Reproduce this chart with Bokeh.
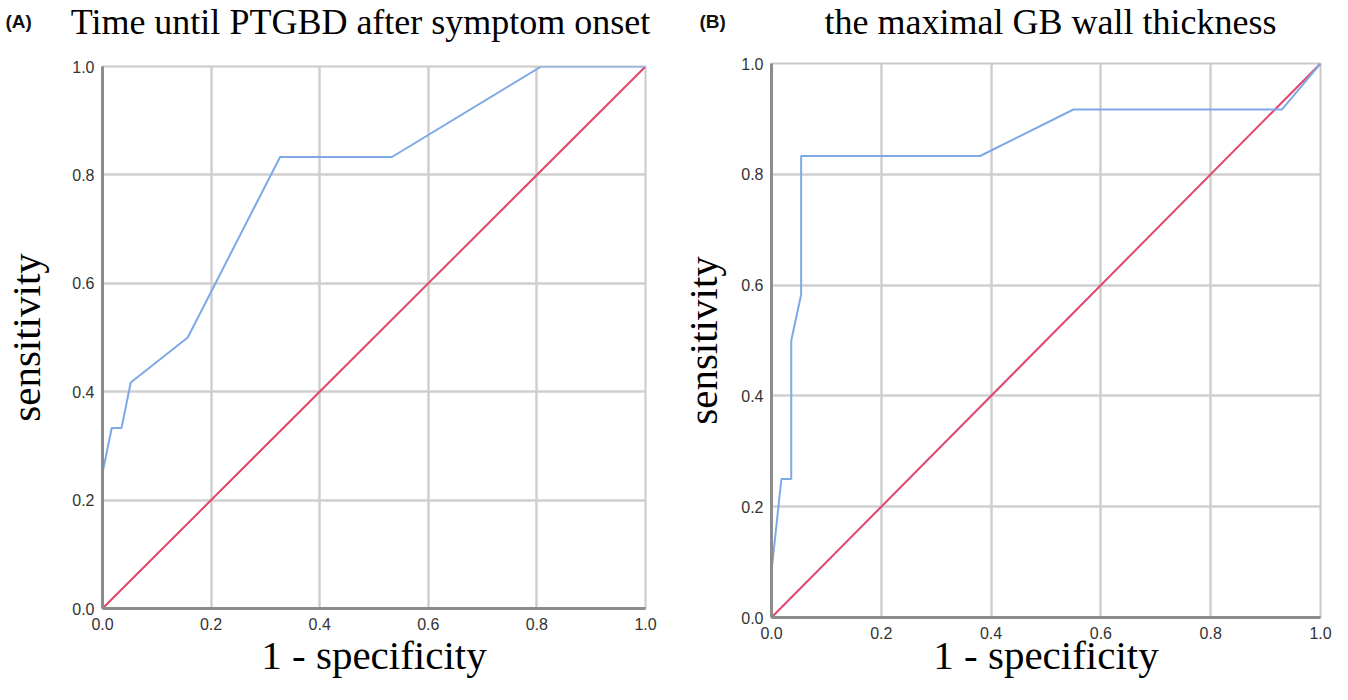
from bokeh.plotting import figure
from bokeh.layouts import row, column
from bokeh.models import Range1d, FixedTicker, PrintfTickFormatter
from bokeh.core.properties import value
from bokeh.embed import file_html
from bokeh.resources import INLINE

# ---- data ----
ticks = [0.0, 0.2, 0.4, 0.6, 0.8, 1.0]
tick_format = "%.1f"

a_title = "Time until PTGBD after symptom onset"
a_tag = "(A)"
a_fpr = [0.0, 0.0, 0.017, 0.035, 0.052, 0.157, 0.327, 0.533, 0.808, 1.0]
a_tpr = [0.0, 0.25, 0.333, 0.333, 0.417, 0.5, 0.833, 0.833, 1.0, 1.0]

b_title = "the maximal GB wall thickness"
b_tag = "(B)"
b_fpr = [0.0, 0.0, 0.018, 0.036, 0.036, 0.054, 0.054, 0.38, 0.55, 0.93, 1.0]
b_tpr = [0.0, 0.083, 0.25, 0.25, 0.5, 0.583, 0.833, 0.833, 0.917, 0.917, 1.0]

ref_x = [0.0, 1.0]
ref_y = [0.0, 1.0]

x_label = "1 - specificity"
y_label = "sensitivity"

SERIF = "Liberation Serif"
SANS = "Liberation Sans"
BLUE = "#7ea9e6"
RED = "#e0466c"

TOTAL_W = 1332
HEAD_H = 46
BODY_H = 684 - HEAD_H

# ---- header strip with panel tags and titles (pixel coordinates) ----
head = figure(width=TOTAL_W, height=HEAD_H, output_backend="svg", toolbar_location=None,
              x_range=Range1d(0, TOTAL_W), y_range=Range1d(HEAD_H, 0),
              x_axis_type=None, y_axis_type=None, min_border=0)
head.outline_line_color = None
head.background_fill_color = "white"
head.border_fill_color = "white"
head.xgrid.visible = False
head.ygrid.visible = False
head.text(x=[5, 699], y=[21, 21], text=[a_tag, b_tag], text_font=value(SANS),
          text_font_style="bold", text_font_size="19px", text_align="left",
          text_baseline="middle", text_color="#111111")
head.text(x=[360, 1050], y=[21, 21], text=[a_title, b_title], text_font=value(SERIF),
          text_font_size="36px", text_align="center", text_baseline="middle",
          text_color="black")


def make_panel(fpr, tpr, width, borders, ylab_standoff, xlab_standoff):
    left, right, top, bottom = borders
    p = figure(width=width, height=BODY_H, output_backend="svg", toolbar_location=None,
               x_range=Range1d(0, 1), y_range=Range1d(0, 1),
               min_border_left=left, min_border_right=right,
               min_border_top=top, min_border_bottom=bottom)
    p.background_fill_color = "white"
    p.border_fill_color = "white"
    p.outline_line_color = "#c9c9c9"
    p.outline_line_width = 2

    for ax in (p.xaxis, p.yaxis):
        ax.ticker = FixedTicker(ticks=ticks)
        ax.formatter = PrintfTickFormatter(format=tick_format)
        ax.major_tick_out = 0
        ax.major_tick_in = 0
        ax.minor_tick_out = 0
        ax.minor_tick_in = 0
        ax.axis_line_color = "#8c8c8c"
        ax.axis_line_width = 3
        ax.major_label_text_font = SANS
        ax.major_label_text_font_size = "16px"
        ax.major_label_text_color = "#333333"
        ax.axis_label_text_font = SERIF
        ax.axis_label_text_font_style = "normal"
        ax.axis_label_text_font_size = "41px"
        ax.axis_label_text_color = "black"
    p.xaxis.major_label_standoff = 9
    p.yaxis.major_label_standoff = 8
    p.xaxis.axis_label = x_label
    p.yaxis.axis_label = y_label
    p.yaxis.axis_label_standoff = ylab_standoff
    p.xaxis.axis_label_standoff = xlab_standoff

    for g in (p.xgrid, p.ygrid):
        g.grid_line_color = "#cfcfcf"
        g.grid_line_width = 2.5

    p.line(ref_x, ref_y, line_color=RED, line_width=2)
    p.line(fpr, tpr, line_color=BLUE, line_width=2)
    return p


pa = make_panel(a_fpr, a_tpr, 674, (102, 29, 66 - HEAD_H, 76), 20, -1)
pb = make_panel(b_fpr, b_tpr, TOTAL_W - 674, (97, 12, 63 - HEAD_H, 67), 12, -10)

layout = column(head, row(column(pa), column(pb)))
open("out.html", "w").write(file_html(layout, INLINE))
